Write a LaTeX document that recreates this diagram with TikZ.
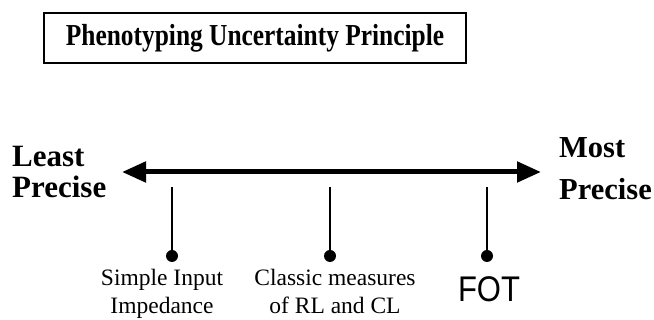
\documentclass[tikz,border=0pt]{standalone}
\usepackage{fontspec}
\usepackage{graphicx}
\setmainfont{Liberation Serif}
\newfontfamily\fotfont{Liberation Sans}
\usetikzlibrary{arrows.meta, positioning}
\tikzset{
  titlebox/.style={
    rectangle, draw=black, line width=2pt, fill=white,
    minimum width=422pt, minimum height=50pt,
    font=\fontsize{25.4}{25.4}\selectfont\bfseries, inner sep=0pt
  },
  endlabel/.style={
    align=left, inner sep=0pt, anchor=base west,
    font=\fontsize{31}{31}\selectfont\bfseries
  },
  methlabel/.style={
    align=center, inner sep=0pt, anchor=base,
    font=\fontsize{23.5}{28}\selectfont
  },
  axisarr/.style={{Triangle[length=24pt,width=20pt]}-{Triangle[length=24pt,width=20pt]}, line width=5pt},
  tickline/.style={line width=2.5pt},
  dotmark/.style={circle, fill=black, inner sep=0pt, minimum size=12pt},
}
\begin{document}
\begin{tikzpicture}[x=1pt, y=1pt, node distance=6pt]
  \useasboundingbox (0,0) rectangle (654,320);
  \node[titlebox] (title) at (255,282) {\scalebox{1}[1.2]{Phenotyping Uncertainty Principle}};
  % precision axis
  \coordinate (least) at (122,148);
  \coordinate (most)  at (541,148);
  \draw[axisarr] (least) -- (most);
  \node[endlabel] (lp) at (12,122) {Least\\Precise};
  \node[endlabel, font=\fontsize{30.5}{42}\selectfont\bfseries] (mp) at (559,120) {Most\\Precise};
  % methods
  \coordinate (t1) at (172,133);
  \coordinate (t2) at (330,133);
  \coordinate (t3) at (487,133);
  \node[dotmark] (d1) at (172,64) {};
  \node[dotmark] (d2) at (330,64) {};
  \node[dotmark] (d3) at (487,64) {};
  \draw[tickline] (t1) -- (d1); \draw[tickline] (t2) -- (d2); \draw[tickline] (t3) -- (d3);
  \node[methlabel] (sii) at (162,6) {Simple Input\\Impedance};
  \node[methlabel] (crl) at (335,6) {Classic measures\\of RL and CL};
  \node[anchor=base, inner sep=0pt, font=\fontsize{31}{31}\selectfont\fotfont] (fot) at (489,18) {\scalebox{1}[1.15]{FOT}};
\end{tikzpicture}
\end{document}
